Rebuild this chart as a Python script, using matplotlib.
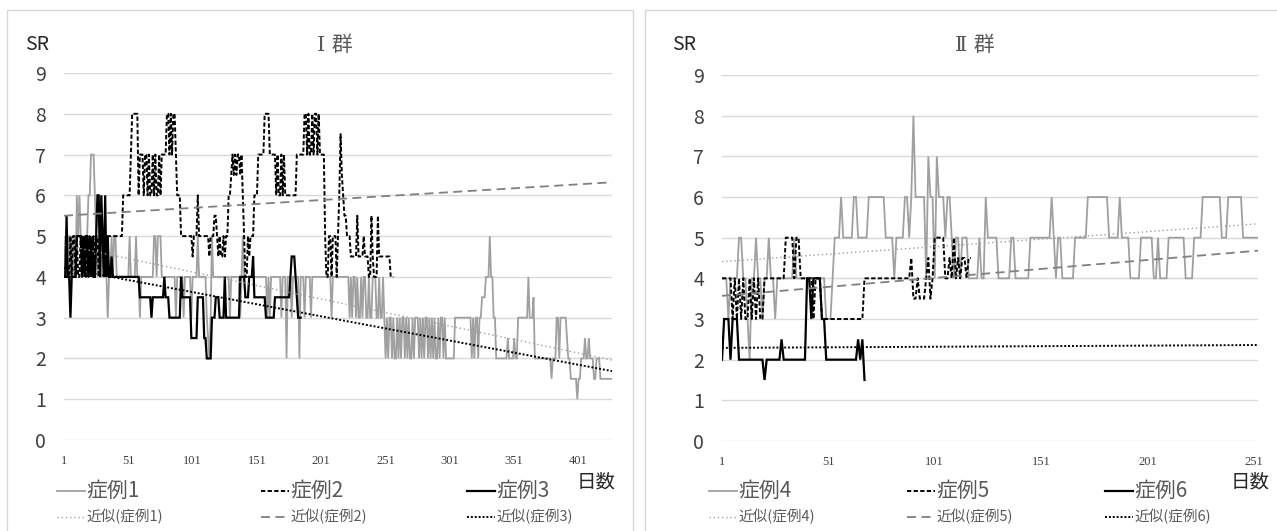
import numpy as np
import matplotlib
matplotlib.use("Agg")
import matplotlib.pyplot as plt
from matplotlib.lines import Line2D
from matplotlib.patches import Rectangle

plt.rcParams["font.family"] = ["Noto Sans CJK JP", "DejaVu Sans"]

# ---- data: daily SR values as (value, number of days) runs ----
case1_runs = [
    (4, 1), (5, 1), (4, 1), (5, 2), (4, 1), (5, 1), (4, 1), (5, 1), (4, 1),
    (6, 1), (5, 1), (6, 1), (5, 2), (4, 1), (5, 3),
    (6, 2), (7, 3), (6, 1), (5, 1), (4, 1), (5, 1), (4, 2), (5, 1), (4, 3),
    (3, 1), (4, 2), (5, 1), (4, 1), (5, 2), (4, 10),
    (5, 1), (4, 4), (5, 1), (4, 2), (3, 1), (4, 10),
    (5, 2), (4, 1), (5, 3), (4, 11), (3, 1), (4, 5), (3, 1), (4, 5), (3, 1),
    (4, 4), (5, 1), (4, 6), (3, 1), (2.5, 1), (2, 1), (3, 1),
    (5, 1), (4, 13), (3, 1), (4, 7), (3, 1), (4, 1), (5, 1), (4, 10),
    (4, 8), (3, 1), (4, 1), (3, 1), (4, 8),
    (3, 1), (4, 3), (2, 1), (4, 3), (3, 1), (4, 5), (2, 1),
    (4, 3), (3, 1), (4, 4), (3, 1), (4, 15), (3, 1), (4, 5),
    (4, 8), (3, 1), (4, 1), (3, 1), (4, 2), (3, 1), (4, 1), (3, 2), (4, 1), (3, 1),
    (4, 2), (3, 2), (4, 1), (3, 2), (4, 3), (3, 2), (4, 1), (3, 2), (4, 1),
    (3, 1), (2, 1), (3, 1), (2, 1), (3, 2), (2, 1), (3, 1), (2, 2), (3, 1), (2, 1),
    (3, 1), (2, 1), (3, 2), (2, 1), (3, 1), (2, 1), (3, 1), (2, 2), (3, 1), (2, 1),
    (3, 3), (2, 1), (3, 1), (2, 1), (3, 1), (2, 1), (3, 2), (2, 1), (3, 1), (2, 1),
    (3, 1), (2, 1), (3, 1), (2, 2), (3, 1), (2, 1), (3, 2), (2, 1), (3, 1), (2, 1),
    (2, 6), (3, 13), (2, 1), (3, 1), (2, 1), (3, 2), (2, 1),
    (3, 2), (3.5, 3), (4, 3), (5, 1), (4, 2), (3, 2),
    (2, 9), (2.5, 1), (2, 4), (2.5, 1), (2, 2),
    (3, 8), (4, 1), (3, 3), (3.5, 1),
    (2, 13), (1.5, 1),
    (2, 3), (3, 2), (2, 1), (3, 5), (2.5, 1), (2, 2),
    (1.5, 5), (1, 1), (1.5, 2), (2, 3), (2.5, 1), (2, 2), (2.5, 1), (2, 3), (1.5, 2),
    (2, 3), (1.5, 10),
]
case2_runs = [
    (4, 5),
    (5, 1), (4, 1), (5, 2), (4, 1), (5, 1), (4, 2), (5, 1), (4, 1), (5, 2), (4, 1),
    (5, 1), (4, 1), (5, 1), (4, 2), (5, 1), (4, 1), (5, 2), (4, 1),
    (5, 18),
    (6, 6), (7, 1), (8, 5),
    (6, 1), (7, 3), (6, 1), (7, 2), (6, 1), (7, 1), (6, 2), (7, 1), (6, 1), (7, 1),
    (6, 2), (7, 1), (6, 1), (7, 4),
    (8, 2), (7, 1), (8, 1), (7, 1), (8, 2), (7, 1),
    (6, 3), (5, 9), (4.5, 1), (5, 3), (6, 1), (5, 8), (4.5, 1), (5, 3),
    (5.5, 2), (5, 1), (4.5, 1), (5, 1), (4.5, 2), (5, 1), (4.5, 1), (5, 1),
    (5, 1), (6, 2), (6.5, 1), (7, 1), (6.5, 1), (7, 1), (6.5, 1), (7, 2), (6.5, 1), (7, 1),
    (6, 1), (5, 1), (4, 2), (5, 1), (4.5, 1), (5, 3), (6, 1),
    (6, 2), (7, 5), (8, 4),
    (7, 5), (6, 1), (7, 1), (6, 2), (7, 1), (6, 1), (7, 1),
    (6, 9), (7, 6),
    (8, 2), (7, 1), (8, 1), (7, 2), (8, 1), (7, 1), (8, 2), (7, 1), (8, 1), (7, 2),
    (7, 2), (5, 1), (4, 2), (5, 2), (4, 1), (5, 3), (4, 1), (5, 1), (6, 1), (7.5, 1),
    (6.5, 1), (6, 1), (5.5, 2), (5, 3), (4.5, 5), (5.5, 1), (4.5, 4), (5, 1), (4.5, 3),
    (4, 2), (5.5, 1), (4.5, 1), (4, 3), (5.5, 1), (4.5, 9), (4, 3),
]
case3_runs = [
    (4, 2), (5.5, 1), (4, 2), (3, 1), (4, 4), (5, 4),
    (4, 1), (5, 1), (4, 1), (5, 2), (4, 1), (5, 1), (4, 1), (5, 1), (4, 2), (5, 1),
    (6, 2), (4, 1), (6, 1), (5, 1), (4, 1), (6, 1), (4, 1), (5, 1),
    (4, 2), (4.5, 1), (4, 21),
    (3.5, 9), (3, 1), (3.5, 9), (4, 1), (3.5, 3), (3, 9),
    (4, 1), (3.5, 7), (2.5, 5), (3.5, 5), (2.5, 2), (2, 4), (3, 3), (3.5, 3), (3, 4),
    (4, 1), (3, 8),
    (3, 3), (4, 4), (3.5, 3), (4, 3), (4.5, 1), (3.5, 9), (3, 7), (3.5, 12), (4, 1),
    (4.5, 3), (4, 1), (3.5, 1), (3, 3),
]
case4_runs = [
    (4, 3), (3, 1), (4, 4), (5, 2), (4, 2), (3, 1), (2, 1), (4, 2), (5, 1), (4, 2),
    (3, 1), (4, 2), (5, 1), (4, 2), (3, 1), (4, 8), (5, 1),
    (4, 14), (3, 3), (4, 1), (5, 3), (6, 1), (5, 5), (6, 2), (5, 5), (6, 8), (5, 4),
    (4, 1), (5, 4), (6, 2), (5, 1), (6, 1), (8, 1),
    (6, 5), (4, 1), (7, 1), (6, 2), (4, 1), (7, 1), (6, 3), (5, 1), (6, 2), (5, 1),
    (4, 1), (5, 2),
    (4, 1), (5, 3), (4, 5), (5, 1), (4, 2), (6, 1), (5, 5), (4, 6), (5, 2), (4, 7),
    (5, 10), (6, 1), (5, 1), (4, 1), (5, 2), (4, 6), (5, 6), (6, 10), (5, 5), (6, 1),
    (5, 4), (4, 5), (5, 6), (4, 2), (5, 1), (4, 4), (5, 8), (4, 4), (5, 4), (6, 9),
    (5, 3), (6, 7), (5, 8),
]
case5_runs = [
    (4, 5), (3, 1), (4, 1), (3, 1), (4, 1), (3, 1), (4, 1), (3, 2), (4, 1), (3, 1),
    (4, 1), (3, 1), (4, 1), (3, 2),
    (4, 10), (5, 4), (4, 1), (5, 2), (4, 6), (3, 1), (4, 3), (3, 20), (4, 20),
    (4, 2), (4.5, 1), (3.5, 2), (4, 1), (3.5, 3), (4, 1), (4.5, 1), (3.5, 1), (4, 1),
    (5, 5), (4, 2), (4.5, 1), (4, 1), (5, 1), (4, 1), (4.5, 1), (4, 1), (4.5, 2),
    (4, 1), (4.5, 2),
]
case6_runs = [
    (2, 1), (3, 3), (2, 1), (3, 3), (2, 12), (1.5, 1), (2, 7), (2.5, 1), (2, 11),
    (4, 2), (3, 1), (4, 4), (3, 2), (2, 15), (2.5, 1), (2, 1), (2.5, 1), (1.5, 1),
]

# linear trend lines (近似): value at first and last day of the axis
trend_I = [(4.78, 1.96), (5.50, 6.32), (4.22, 1.69)]
trend_II = [(4.41, 5.34), (3.57, 4.68), (2.29, 2.36)]

names_I = ["症例1", "症例2", "症例3"]
names_II = ["症例4", "症例5", "症例6"]


def expand(runs):
    vals = [v for v, n in runs]
    cnts = [n for v, n in runs]
    return np.repeat(vals, cnts)


W, H = 1277, 531
fig = plt.figure(figsize=(W / 100, H / 100), dpi=100)


def fx(px):
    return px / W


def fy(py):
    return 1 - py / H


series_style = [
    dict(color="#a0a0a0", lw=1.3, ls="-"),
    dict(color="black", lw=1.4, ls=(0, (2.2, 1.2))),
    dict(color="black", lw=1.6, ls="-"),
]
trend_style = [
    dict(color="#a0a0a0", lw=1.0, ls=(0, (1, 2))),
    dict(color="#808080", lw=1.3, ls=(0, (5, 3))),
    dict(color="black", lw=1.4, ls=(0, (1, 1))),
]

panels = [
    dict(box=(7, 633), ax=(64, 612), top=73, bot=440,
         series=[case1_runs, case2_runs, case3_runs], trends=trend_I,
         names=names_I, title="Ⅰ 群", title_x=335, sr_x=37,
         leg_x=[57, 261, 467], days_x=596),
    dict(box=(645, 1290), ax=(722, 1258), top=75, bot=441,
         series=[case4_runs, case5_runs, case6_runs], trends=trend_II,
         names=names_II, title="Ⅱ 群", title_x=975, sr_x=684,
         leg_x=[709, 907, 1105], days_x=1250),
]

for p in panels:
    bx0, bx1 = p["box"]
    fig.add_artist(Rectangle((fx(bx0), fy(H + 5)), fx(bx1 - bx0), (H - 10 + 5) / H,
                             transform=fig.transFigure, fill=False,
                             ec="#d9d9d9", lw=1))
    x0, x1 = p["ax"]
    ax = fig.add_axes([fx(x0), fy(p["bot"]), fx(x1 - x0), (p["bot"] - p["top"]) / H])
    data = [expand(r) for r in p["series"]]
    n_days = max(len(d) for d in data)
    for d, st in zip(data, series_style):
        days = np.arange(1, len(d) + 1)
        ax.plot(days, d, solid_joinstyle="miter", **st)
    for (t0, t1), st in zip(p["trends"], trend_style):
        ax.plot([1, n_days], [t0, t1], **st)

    ax.set_xlim(1, n_days)
    ax.set_ylim(0, 9)
    ax.set_yticks(range(0, 10))
    ax.set_xticks(range(1, n_days + 1, 50))
    ax.grid(axis="y", color="#d9d9d9", lw=1)
    ax.set_axisbelow(True)
    for s in ax.spines.values():
        s.set_visible(False)
    ax.tick_params(axis="y", length=0, pad=13, labelsize=14, labelcolor="#404040")
    ax.tick_params(axis="x", length=0, pad=11, labelsize=9, labelcolor="#404040")
    for lab in ax.get_xticklabels():
        lab.set_family(["Liberation Serif", "DejaVu Serif"])

    fig.text(fx(p["title_x"]), fy(45), p["title"], ha="center", va="center",
             fontsize=15, color="#595959",
             family=["DejaVu Serif", "Noto Sans CJK JP"])
    fig.text(fx(p["sr_x"]), fy(45), "SR", ha="center", va="center",
             fontsize=14, color="#262626")
    fig.text(fx(p["days_x"]), fy(482), "日数", ha="center", va="center",
             fontsize=14, color="#262626")

    for lx, name, st, tst in zip(p["leg_x"], p["names"], series_style, trend_style):
        fig.add_artist(Line2D([fx(lx), fx(lx + 28)], [fy(491), fy(491)],
                              transform=fig.transFigure, color=st["color"],
                              lw=st["lw"], ls=st["ls"]))
        fig.text(fx(lx + 29), fy(491), name, ha="left", va="center",
                 fontsize=15, color="#595959")
        fig.add_artist(Line2D([fx(lx), fx(lx + 28)], [fy(517), fy(517)],
                              transform=fig.transFigure, color=tst["color"],
                              lw=tst["lw"], ls=tst["ls"]))
        fig.text(fx(lx + 29), fy(517), "近似(" + name + ")", ha="left", va="center",
                 fontsize=10.5, color="#595959")

fig.savefig("out.png", dpi=100, facecolor="white")
